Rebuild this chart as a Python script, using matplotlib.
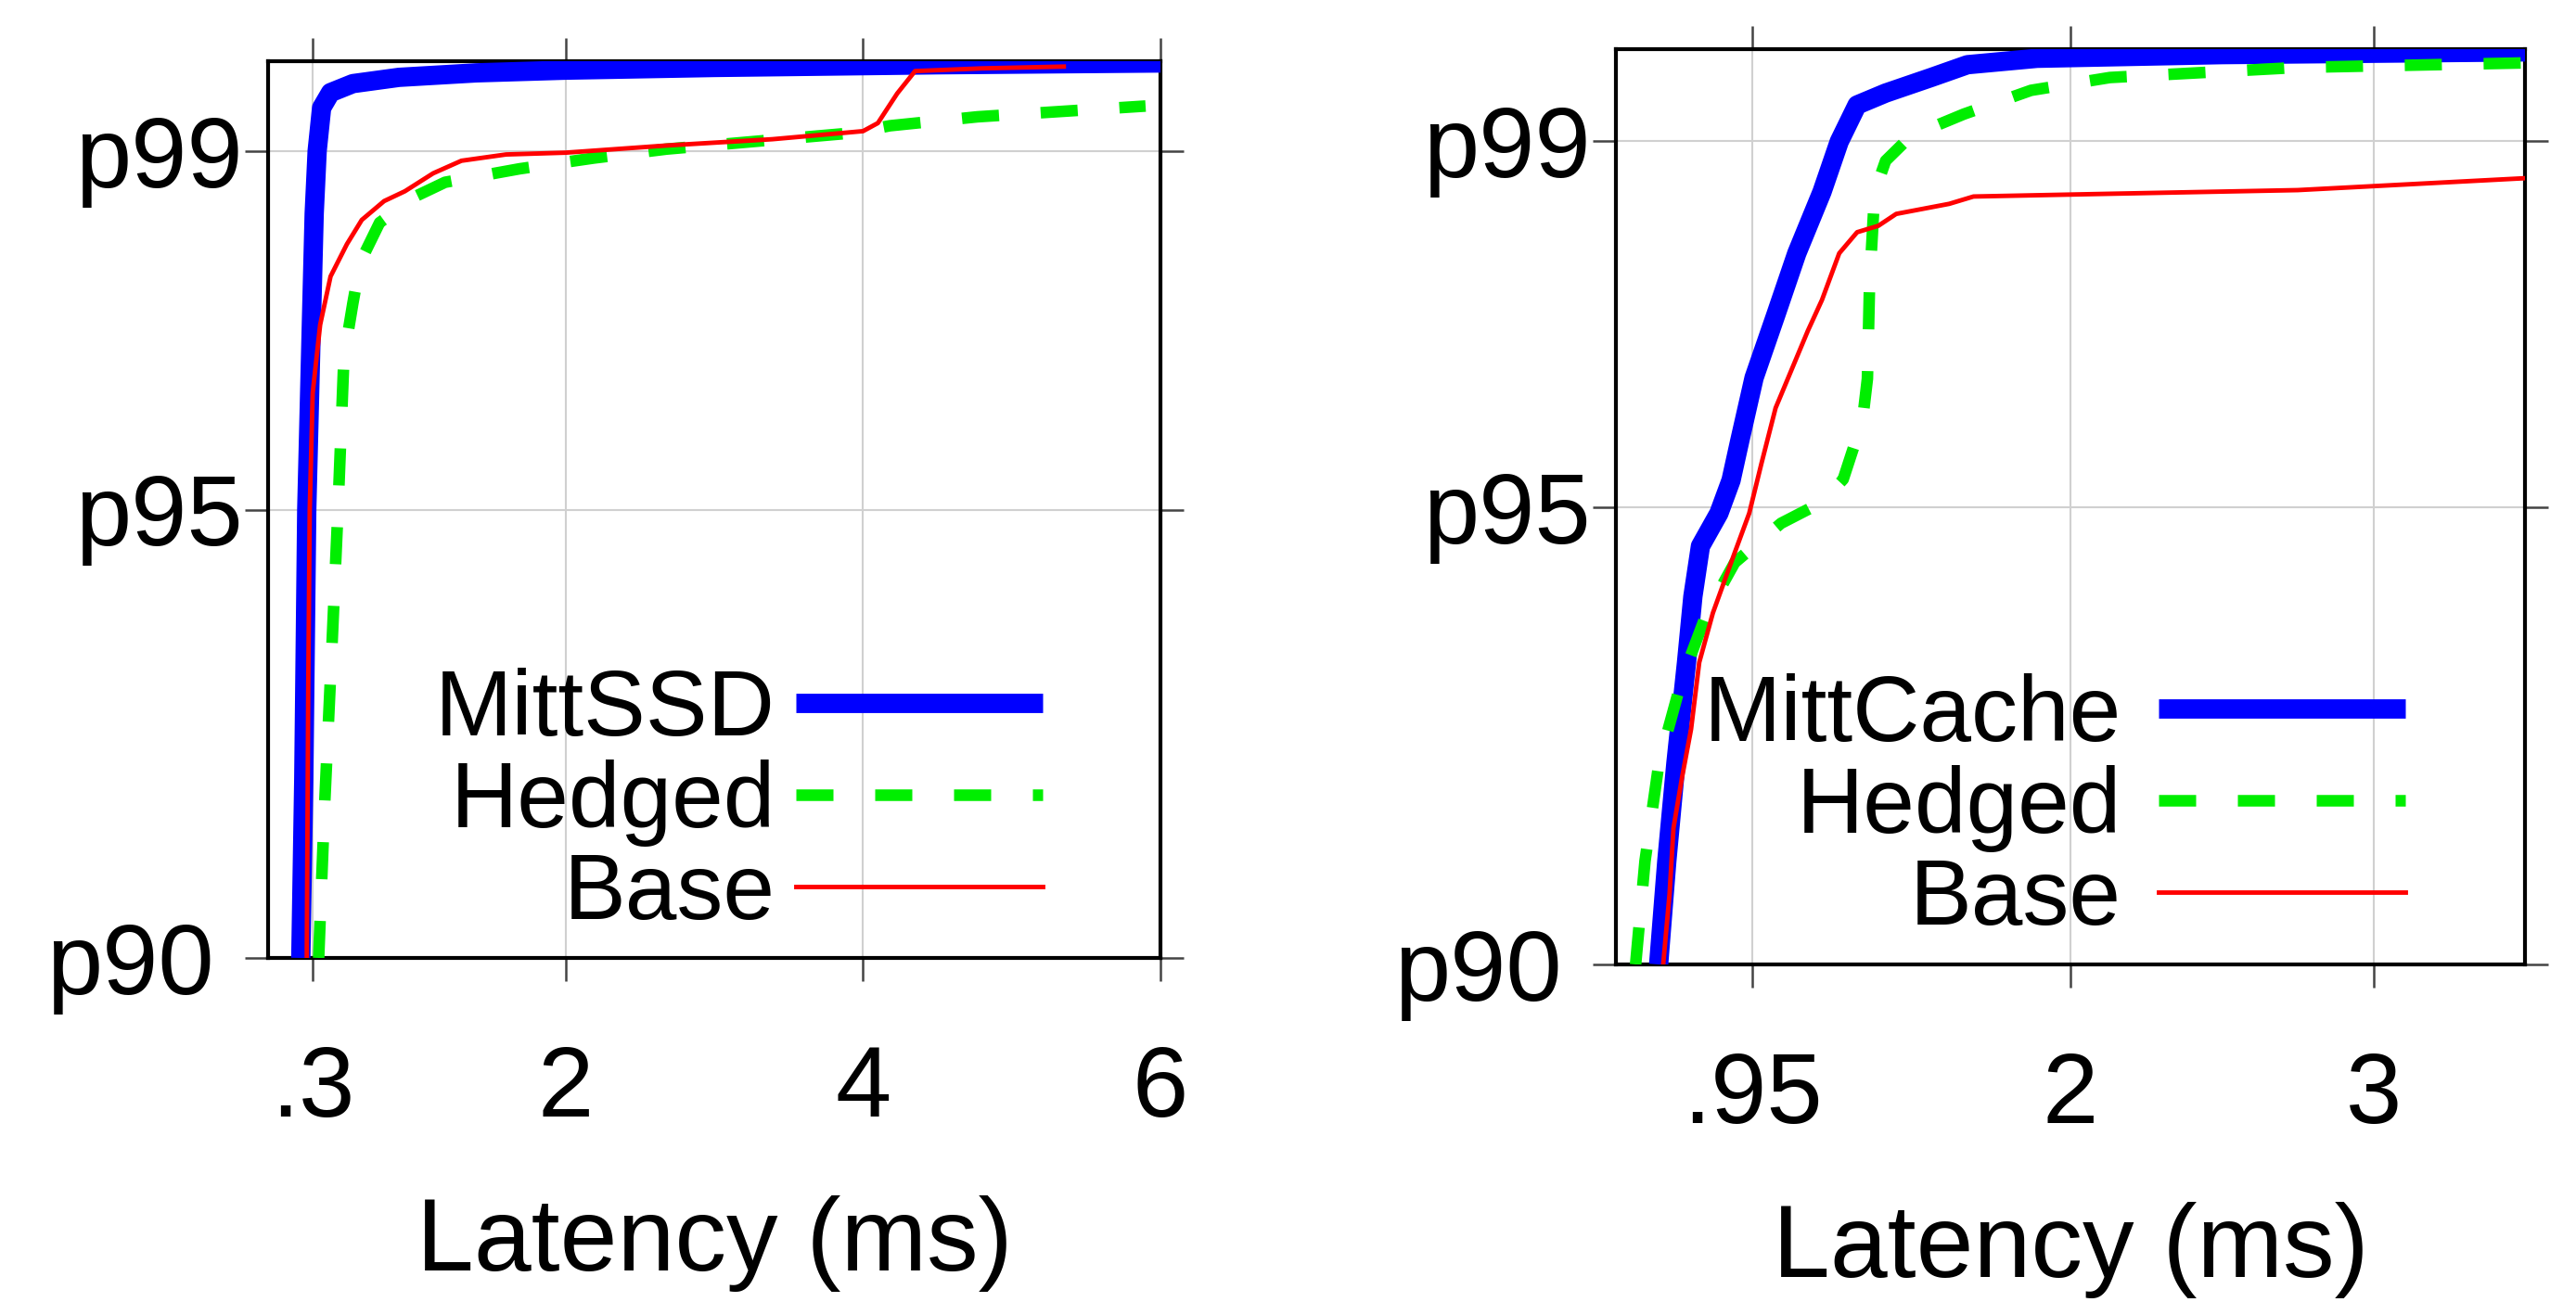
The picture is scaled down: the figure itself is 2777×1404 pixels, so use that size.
import matplotlib
matplotlib.use('Agg')
import matplotlib.pyplot as plt

plt.rcParams['font.family'] = ['Liberation Sans', 'DejaVu Sans']

# ---- left panel (SSD) : latency in ms, percentile
ssd_mitt_x = [0.22, 0.24, 0.26, 0.29, 0.31, 0.33, 0.36, 0.42, 0.57, 0.88, 1.4, 2.0, 3.0, 4.5, 6.0]
ssd_mitt_y = [90, 92, 95, 97, 98.3, 99.0, 99.48, 99.65, 99.75, 99.82, 99.87, 99.9, 99.93, 99.96, 99.98]

ssd_hedged_x = [0.34, 0.38, 0.43, 0.47, 0.51, 0.57, 0.62, 0.75, 1.0, 1.19, 1.69, 2.19, 2.68, 3.93, 4.18, 4.77, 5.9]
ssd_hedged_y = [90, 91.7, 93.5, 95, 96.7, 97.3, 97.76, 98.2, 98.5, 98.65, 98.8, 98.92, 99.02, 99.2, 99.28, 99.38, 99.5]

ssd_base_x = [0.26, 0.27, 0.28, 0.30, 0.35, 0.42, 0.53, 0.63, 0.78, 0.92, 1.11, 1.30, 1.6, 2.0, 2.68, 3.39, 4.0,
              4.1, 4.23, 4.35, 4.8, 5.35]
ssd_base_y = [90, 93, 95, 96.3, 97.06, 97.6, 97.96, 98.23, 98.44, 98.55, 98.75, 98.89, 98.96, 98.98, 99.06, 99.13, 99.22,
              99.31, 99.64, 99.89, 99.92, 99.94]

# ---- right panel (cache)
cache_mitt_x = [0.641, 0.668, 0.698, 0.733, 0.754, 0.779, 0.84, 0.88, 0.91, 0.956, 1.027, 1.097, 1.18, 1.237,
                1.296, 1.39, 1.54, 1.66, 1.89, 2.5, 3.5]
cache_mitt_y = [90, 91.13, 92.2, 93.3, 94.02, 94.57, 94.93, 95.29, 95.74, 96.41, 97.09, 97.77, 98.44, 98.99,
                99.39, 99.52, 99.69, 99.83, 99.9, 99.94, 99.97]

cache_hedged_x = [0.565, 0.596, 0.642, 0.718, 0.80, 0.892, 1.045, 1.18, 1.25, 1.314, 1.33, 1.337, 1.354, 1.39,
                  1.473, 1.648, 1.87, 2.13, 2.75, 3.5]
cache_hedged_y = [90, 91.13, 92.2, 93.12, 93.84, 94.39, 94.82, 95.05, 95.3, 95.95, 96.4, 97.43, 98.44, 98.78,
                  99.05, 99.29, 99.55, 99.69, 99.8, 99.85]

cache_base_x = [0.656, 0.677, 0.69, 0.718, 0.748, 0.775, 0.82, 0.88, 0.94, 0.98, 1.027, 1.133, 1.18, 1.237,
                1.296, 1.366, 1.425, 1.60, 1.68, 2.13, 2.75, 3.5]
cache_base_y = [90, 90.77, 91.49, 92.04, 92.57, 93.3, 93.84, 94.39, 94.93, 95.47, 96.08, 96.92, 97.26, 97.77,
                98.0, 98.07, 98.2, 98.31, 98.39, 98.42, 98.46, 98.59]

ytick_vals = [90, 95, 99]
ytick_labels = ['p90', 'p95', 'p99']
ssd_xticks = [0.3, 2, 4, 6]
ssd_xlabels = ['.3', '2', '4', '6']
cache_xticks = [0.95, 2, 3]
cache_xlabels = ['.95', '2', '3']

W, H = 2777, 1404
fig = plt.figure(figsize=(W / 100, H / 100), dpi=100)
ax1 = fig.add_axes([289 / W, 1 - 1033 / H, 962 / W, 967 / H])
ax2 = fig.add_axes([1742 / W, 1 - 1040 / H, 980 / W, 987 / H])


def draw(ax, mitt, hedged, base, name, xlim, xticks, xlabels, textpad):
    ax.plot(mitt[0], mitt[1], color='#0000ff', lw=15, label=name, zorder=3, solid_capstyle='butt')
    ax.plot(hedged[0], hedged[1], color='#00ee00', lw=9, dashes=(3.2, 3.6), label='Hedged', zorder=3)
    ax.plot(base[0], base[1], color='#ff0000', lw=3.5, label='Base', zorder=3)
    ax.set_xlim(*xlim)
    ax.set_ylim(90, 100)
    ax.set_xticks(xticks, xlabels)
    ax.set_yticks(ytick_vals, ytick_labels)
    ax.grid(True, color='#d0d0d0', lw=1.5)
    ax.tick_params(direction='out', length=18, width=1.8, color='#444444',
                   top=True, right=True, labelsize=78)
    ax.tick_params(axis='x', pad=49)
    ax.tick_params(axis='y', pad=2)
    ax.yaxis.get_major_ticks()[0].set_pad(24)
    for s in ax.spines.values():
        s.set_linewidth(3)
        s.set_color('black')
    ax.set_xlabel('Latency (ms)', fontsize=80, labelpad=45)
    ax.legend(loc='lower right', bbox_to_anchor=(0.868, 0.022), frameon=False, fontsize=72,
              markerfirst=False, handlelength=2.66, handletextpad=textpad, labelspacing=0.05,
              borderpad=0, borderaxespad=0)


draw(ax1, (ssd_mitt_x, ssd_mitt_y), (ssd_hedged_x, ssd_hedged_y), (ssd_base_x, ssd_base_y),
     'MittSSD', (0, 6), ssd_xticks, ssd_xlabels, 0.22)
draw(ax2, (cache_mitt_x, cache_mitt_y), (cache_hedged_x, cache_hedged_y), (cache_base_x, cache_base_y),
     'MittCache', (0.5, 3.5), cache_xticks, cache_xlabels, 0.4)

fig.savefig('out.png', dpi=100)
